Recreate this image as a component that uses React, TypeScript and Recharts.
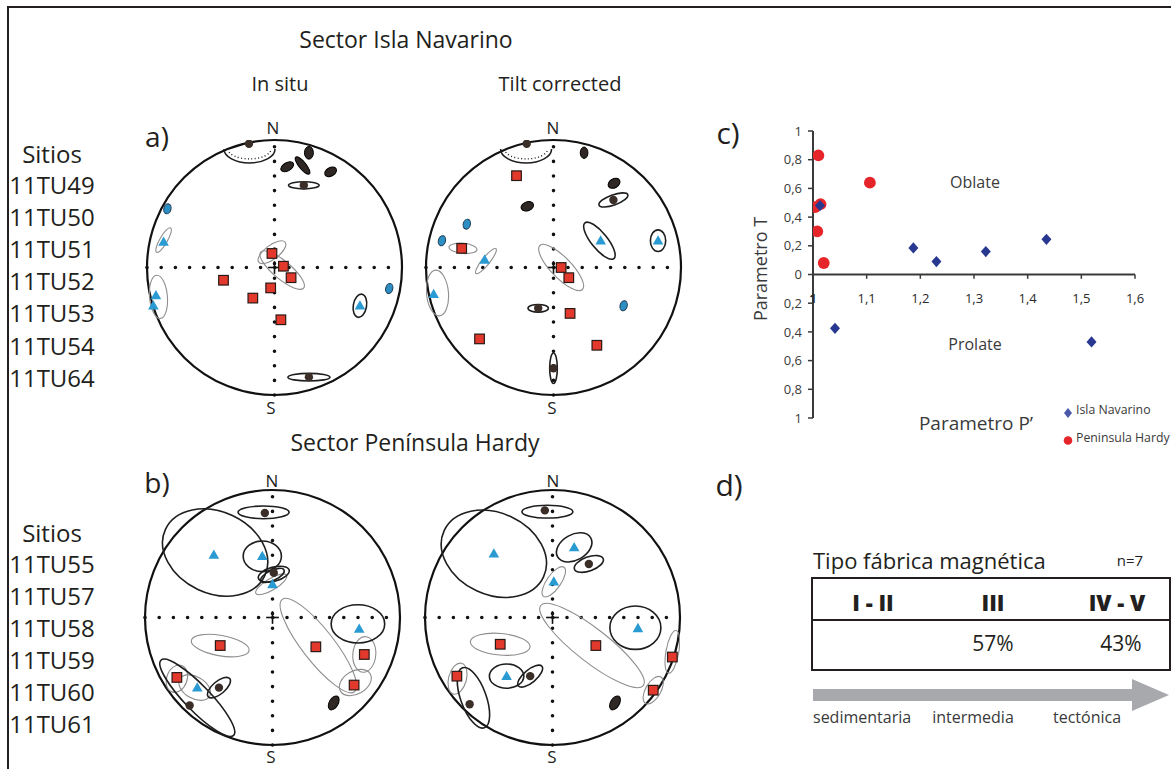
import React from 'react';
import { ScatterChart, Scatter, XAxis, YAxis, ReferenceLine, ReferenceDot } from 'recharts';

const FONT = "'Open Sans', 'Noto Sans', 'DejaVu Sans', sans-serif";
const INK = '#231f20';

// ---------- panel c: Parametro T vs Parametro P' ----------
const navarinoP = [1.013, 1.187, 1.23, 1.322, 1.435, 1.041, 1.519];
const navarinoT = [0.48, 0.185, 0.09, 0.16, 0.245, -0.375, -0.47];
const hardyP = [1.01, 1.106, 1.014, 1.004, 1.008, 1.02];
const hardyT = [0.83, 0.64, 0.49, 0.47, 0.3, 0.08];
const tTicks = [-1, -0.8, -0.6, -0.4, -0.2, 0, 0.2, 0.4, 0.6, 0.8, 1];
const pTicks = [1, 1.1, 1.2, 1.3, 1.4, 1.5, 1.6];
const seriesNames = ['Isla Navarino', 'Peninsula Hardy'];

// ---------- site lists ----------
const sitesNavarino = ['11TU49', '11TU50', '11TU51', '11TU52', '11TU53', '11TU54', '11TU64'];
const sitesHardy = ['11TU55', '11TU57', '11TU58', '11TU59', '11TU60', '11TU61'];

// ---------- panel d ----------
const fabricTypes = ['I - II', 'III', 'IV - V'];
const fabricShares = ['', '57%', '43%'];
const fabricScale = ['sedimentaria', 'intermedia', 'tectónica'];

// ---------- stereonets (x = E, y = N, unit = net radius) ----------
// ellipse rows: [x, y, semiAxisA, semiAxisB, rotationDeg, tone]
const aInSituSquares = [[-0.02, 0.11], [0.07, 0.01], [0.13, -0.08], [-0.4, -0.1], [-0.03, -0.16], [-0.17, -0.24], [0.05, -0.41]];
const aInSituTriangles = [[-0.87, 0.2], [-0.93, -0.22], [-0.95, -0.3], [0.67, -0.3]];
const aInSituDots = [[-0.2, 0.97], [0.23, 0.645], [0.27, -0.86]];
const aInSituEllipses = [
  [0.06, -0.02, 0.22, 0.07, 40, 'gray'], [-0.02, 0.12, 0.13, 0.055, -37, 'gray'],
  [-0.87, 0.215, 0.11, 0.03, -60, 'gray'], [-0.91, -0.23, 0.07, 0.17, -5, 'gray'],
  [0.67, -0.3, 0.052, 0.092, 10, 'dark'], [0.23, 0.645, 0.12, 0.028, 0, 'dark'],
  [0.27, -0.86, 0.165, 0.03, 0, 'dark'], [0.27, 0.9, 0.035, 0.05, 0, 'fill'],
  [0.1, 0.79, 0.055, 0.032, -30, 'fill'], [0.22, 0.8, 0.085, 0.028, 51, 'fill'],
  [0.44, 0.75, 0.05, 0.033, -30, 'fill'], [-0.84, 0.46, 0.028, 0.04, 15, 'blue'],
  [0.9, -0.165, 0.028, 0.04, 15, 'blue'],
];
const aInSituCups = [[-0.196, 0.93, 0.2, 0.11]];

const aTiltSquares = [[-0.29, 0.72], [-0.72, 0.15], [-0.58, -0.56], [0.06, 0.0], [0.12, -0.08], [0.13, -0.36], [0.34, -0.61]];
const aTiltTriangles = [[-0.54, 0.06], [-0.94, -0.21], [0.37, 0.21], [0.82, 0.21]];
const aTiltDots = [[-0.21, 0.97], [0.47, 0.53], [-0.12, -0.32], [0.0, -0.79]];
const aTiltEllipses = [
  [0.06, 0.0, 0.24, 0.08, 46, 'gray'], [-0.71, 0.15, 0.11, 0.04, 5, 'gray'],
  [-0.53, 0.05, 0.125, 0.03, -51, 'gray'], [-0.91, -0.2, 0.086, 0.18, -5, 'gray'],
  [0.36, 0.21, 0.18, 0.063, 51, 'dark'], [0.82, 0.21, 0.06, 0.085, 0, 'dark'],
  [0.47, 0.53, 0.12, 0.04, -20, 'dark'], [-0.12, -0.32, 0.08, 0.03, 0, 'dark'],
  [0.0, -0.79, 0.03, 0.12, 0, 'dark'], [0.24, 0.9, 0.03, 0.045, 0, 'fill'],
  [0.475, 0.66, 0.05, 0.035, -30, 'fill'], [-0.205, 0.48, 0.05, 0.035, -20, 'fill'],
  [-0.68, 0.34, 0.028, 0.04, 15, 'blue'], [-0.875, 0.21, 0.028, 0.04, 15, 'blue'],
  [0.55, -0.3, 0.028, 0.04, 15, 'blue'],
];
const aTiltCups = [[-0.215, 0.93, 0.2, 0.11]];

const bInSituSquares = [[-0.41, -0.22], [-0.75, -0.47], [0.34, -0.23], [0.72, -0.29], [0.64, -0.53]];
const bInSituTriangles = [[-0.46, 0.49], [-0.08, 0.48], [0.0, 0.26], [0.68, -0.09], [-0.59, -0.55]];
const bInSituDots = [[-0.06, 0.82], [0.01, 0.35], [-0.42, -0.55], [-0.65, -0.69]];
const bInSituEllipses = [
  [-0.41, -0.22, 0.23, 0.08, 10, 'gray'], [-0.75, -0.48, 0.08, 0.11, 20, 'gray'],
  [0.36, -0.22, 0.46, 0.125, 52, 'gray'], [0.72, -0.29, 0.09, 0.14, 5, 'gray'],
  [0.65, -0.51, 0.135, 0.09, -30, 'gray'], [-0.01, 0.26, 0.14, 0.045, -31, 'gray'],
  [-0.61, -0.55, 0.135, 0.085, 30, 'gray'], [-0.45, 0.51, 0.43, 0.32, 25, 'dark'],
  [-0.08, 0.48, 0.15, 0.12, 0, 'dark'], [0.67, -0.05, 0.21, 0.15, 0, 'dark'],
  [-0.07, 0.825, 0.2, 0.05, 0, 'dark'], [0.01, 0.34, 0.125, 0.055, -15, 'dark'],
  [0.0, 0.33, 0.1, 0.04, -25, 'dark'], [-0.42, -0.55, 0.11, 0.05, -40, 'dark'],
  [-0.59, -0.63, 0.41, 0.1, 46, 'dark'], [0.48, -0.67, 0.035, 0.06, 30, 'fill'],
];
const bInSituCups: number[][] = [];

const bTiltSquares = [[-0.41, -0.21], [0.34, -0.22], [0.94, -0.31], [0.79, -0.57], [-0.75, -0.46]];
const bTiltTriangles = [[-0.46, 0.5], [0.17, 0.55], [0.01, 0.28], [0.67, -0.085], [-0.36, -0.46]];
const bTiltDots = [[-0.06, 0.84], [0.285, 0.42], [-0.175, -0.46], [-0.65, -0.68]];
const bTiltEllipses = [
  [-0.41, -0.21, 0.235, 0.085, 5, 'gray'], [0.31, -0.22, 0.51, 0.13, 38, 'gray'],
  [0.94, -0.27, 0.05, 0.17, 10, 'gray'], [0.79, -0.57, 0.06, 0.12, 30, 'gray'],
  [-0.745, -0.48, 0.07, 0.125, 15, 'gray'], [0.01, 0.28, 0.14, 0.055, -55, 'gray'],
  [-0.46, 0.5, 0.43, 0.32, 25, 'dark'], [0.17, 0.55, 0.15, 0.1, -30, 'dark'],
  [0.65, -0.08, 0.2, 0.17, 0, 'dark'], [-0.36, -0.46, 0.135, 0.095, 0, 'dark'],
  [-0.04, 0.83, 0.2, 0.05, 0, 'dark'], [0.285, 0.42, 0.12, 0.055, -20, 'dark'],
  [-0.175, -0.46, 0.12, 0.05, -40, 'dark'], [-0.62, -0.63, 0.25, 0.1, 70, 'dark'],
  [0.49, -0.67, 0.035, 0.06, 30, 'fill'],
];
const bTiltCups: number[][] = [];

// ---------- helpers ----------
const NET_R = 127.5;
const NET_M = 16;

const toPts = (arr: number[][]) => arr.map(([x, y]) => ({ x, y }));
const toElls = (arr: any[]) => arr.map(([x, y, a, b, rot, tone]) => ({ x, y, a, b, rot, tone }));
const toCups = (arr: number[][]) => arr.map(([x, y, a, b]) => ({ x, y, a, b }));

const TONE: Record<string, { fill: string; stroke: string; sw: number }> = {
  gray: { fill: 'none', stroke: '#8e8e8e', sw: 1.1 },
  dark: { fill: 'none', stroke: '#1e1e1e', sw: 1.6 },
  fill: { fill: '#2f2724', stroke: '#000', sw: 1 },
  blue: { fill: '#2b8fc4', stroke: '#1c3850', sw: 1 },
};

const ellipseShape = (p: any) => {
  if (p.cx == null) return <g />;
  const d = p.payload;
  const t = TONE[d.tone];
  return (
    <ellipse cx={p.cx} cy={p.cy} rx={d.a * NET_R} ry={d.b * NET_R}
      transform={`rotate(${d.rot} ${p.cx} ${p.cy})`} fill={t.fill} stroke={t.stroke} strokeWidth={t.sw} />
  );
};
const cupShape = (p: any) => {
  if (p.cx == null) return <g />;
  const d = p.payload;
  const rx = d.a * NET_R, ry = d.b * NET_R;
  return (
    <g>
      <path d={`M ${p.cx - rx} ${p.cy} A ${rx} ${ry} 0 0 0 ${p.cx + rx} ${p.cy}`} fill="none" stroke="#1e1e1e" strokeWidth={1.6} />
      <path d={`M ${p.cx - rx + 4} ${p.cy} A ${rx - 4} ${ry - 4} 0 0 0 ${p.cx + rx - 4} ${p.cy}`} fill="none" stroke="#1e1e1e" strokeWidth={1.4} strokeDasharray="1 2.4" />
    </g>
  );
};
const squareShape = (p: any) => (p.cx == null ? <g /> :
  <rect x={p.cx - 4.8} y={p.cy - 4.8} width={9.6} height={9.6} fill="#e2392c" stroke="#2a1a16" strokeWidth={1.2} />);
const triangleShape = (p: any) => (p.cx == null ? <g /> :
  <polygon points={`${p.cx},${p.cy - 5.5} ${p.cx + 5.3},${p.cy + 3.8} ${p.cx - 5.3},${p.cy + 3.8}`} fill="#2a9ad2" />);
const dotShape = (p: any) => (p.cx == null ? <g /> :
  <circle cx={p.cx} cy={p.cy} r={4.2} fill="#3b2e29" />);

const diamondShape = (p: any) => (p.cx == null ? <g /> :
  <polygon points={`${p.cx},${p.cy - 5.6} ${p.cx + 5},${p.cy} ${p.cx},${p.cy + 5.6} ${p.cx - 5},${p.cy}`} fill="#283890" />);
const redDotShape = (p: any) => (p.cx == null ? <g /> :
  <circle cx={p.cx} cy={p.cy} r={5.9} fill="#e5252a" />);

const Txt = ({ x, y, size, children, anchor = 'middle', weight = 400, color = INK, rotate = 0 }: any) => (
  <div style={{
    position: 'absolute', left: x, top: y,
    transform: `translate(${anchor === 'start' ? '0' : anchor === 'end' ? '-100%' : '-50%'}, -50%) rotate(${rotate}deg)`,
    fontSize: size, fontWeight: weight, color, whiteSpace: 'nowrap', lineHeight: 1, fontFamily: FONT,
  }}>{children}</div>
);

function Net({ cx, cy, squares, triangles, dots, ellipses, cups }: any) {
  const W = 2 * NET_R + 2 * NET_M;
  const ells = toElls(ellipses);
  return (
    <div style={{ position: 'absolute', left: cx - NET_R - NET_M, top: cy - NET_R - NET_M }}>
      <ScatterChart width={W} height={W} margin={{ top: NET_M, right: NET_M, bottom: NET_M, left: NET_M }}>
        <XAxis type="number" dataKey="x" domain={[-1, 1]} hide allowDataOverflow />
        <YAxis type="number" dataKey="y" domain={[-1, 1]} hide allowDataOverflow />
        <ReferenceLine x={0} stroke="#111" strokeWidth={3.6} strokeDasharray="0 14.6" strokeLinecap="round" />
        <ReferenceLine y={0} stroke="#111" strokeWidth={3.6} strokeDasharray="0 14.2" strokeLinecap="round" />
        <ReferenceLine segment={[{ x: -0.05, y: 0 }, { x: 0.05, y: 0 }]} stroke="#111" strokeWidth={1.6} />
        <ReferenceLine segment={[{ x: 0, y: -0.05 }, { x: 0, y: 0.05 }]} stroke="#111" strokeWidth={1.6} />
        <ReferenceDot x={0} y={0} r={NET_R} fill="none" stroke="#111" strokeWidth={2.2} />
        <Scatter data={ells.filter((e) => e.tone === 'gray')} shape={ellipseShape} isAnimationActive={false} />
        <Scatter data={ells.filter((e) => e.tone === 'dark')} shape={ellipseShape} isAnimationActive={false} />
        <Scatter data={toCups(cups)} shape={cupShape} isAnimationActive={false} />
        <Scatter data={ells.filter((e) => e.tone === 'fill' || e.tone === 'blue')} shape={ellipseShape} isAnimationActive={false} />
        <Scatter data={toPts(dots)} shape={dotShape} isAnimationActive={false} />
        <Scatter data={toPts(squares)} shape={squareShape} isAnimationActive={false} />
        <Scatter data={toPts(triangles)} shape={triangleShape} isAnimationActive={false} />
      </ScatterChart>
    </div>
  );
}

const fmtComma = (v: number) => {
  const a = Math.abs(v);
  if (a < 1e-9) return '0';
  if (Math.abs(a - Math.round(a)) < 1e-9) return String(Math.round(a));
  return a.toFixed(1).replace('.', ',');
};

function PanelC() {
  const navarino = navarinoP.map((P, i) => ({ P, T: navarinoT[i] }));
  const hardy = hardyP.map((P, i) => ({ P, T: hardyT[i] }));
  return (
    <div style={{ position: 'absolute', left: 740, top: 120 }}>
      <ScatterChart width={415} height={308} margin={{ top: 11, right: 20, bottom: 10, left: 0 }}>
        <XAxis type="number" dataKey="P" domain={[1, 1.6]} hide allowDataOverflow />
        <YAxis type="number" dataKey="T" domain={[-1, 1]} ticks={tTicks} interval={0} width={73}
          allowDataOverflow tickFormatter={fmtComma} tickSize={5} tickMargin={6}
          axisLine={{ stroke: '#3a3a3a', strokeWidth: 2 }} tickLine={{ stroke: '#3a3a3a', strokeWidth: 1.5 }}
          tick={{ fontSize: 13, fill: '#3a3a3a', fontFamily: FONT }} />
        <ReferenceLine y={0} stroke="#3a3a3a" strokeWidth={2} />
        {pTicks.map((v) => (
          <ReferenceLine key={v} segment={[{ x: v, y: 0 }, { x: v, y: -0.03 }]} stroke="#3a3a3a" strokeWidth={1.5}
            label={{ value: fmtComma(v), position: 'bottom', offset: 15, fontSize: 13, fill: '#2a2a2a', fontFamily: FONT, fontWeight: v === 1 ? 700 : 400 }} />
        ))}
        <Scatter name={seriesNames[1]} data={hardy} shape={redDotShape} isAnimationActive={false} />
        <Scatter name={seriesNames[0]} data={navarino} shape={diamondShape} isAnimationActive={false} />
      </ScatterChart>
    </div>
  );
}

export default function App() {
  return (
    <div style={{ position: 'absolute', left: 0, top: 0, width: 1171, height: 769, overflow: 'hidden', background: '#fff', fontFamily: FONT, color: INK }}>
      <div style={{ position: 'absolute', left: 7, top: 6, width: 1300, height: 900, borderLeft: `2px solid ${INK}`, borderTop: `2px solid ${INK}` }} />

      {/* titles */}
      <Txt x={406} y={39} size={23}>Sector Isla Navarino</Txt>
      <Txt x={280} y={84} size={20}>In situ</Txt>
      <Txt x={560} y={84} size={20}>Tilt corrected</Txt>
      <Txt x={415} y={442} size={23}>Sector Península Hardy</Txt>
      <Txt x={157} y={136} size={28}>a)</Txt>
      <Txt x={157} y={482} size={28}>b)</Txt>
      <Txt x={728} y={133} size={30}>c)</Txt>
      <Txt x={729} y={485} size={30}>d)</Txt>

      {/* site lists */}
      <Txt x={52} y={154} size={24}>Sitios</Txt>
      {sitesNavarino.map((s, i) => <Txt key={s} x={52} y={185 + i * 32.1} size={24}>{s}</Txt>)}
      <Txt x={52} y={533} size={24}>Sitios</Txt>
      {sitesHardy.map((s, i) => <Txt key={s} x={52} y={563.5 + i * 32} size={24}>{s}</Txt>)}

      {/* stereonets */}
      <Net cx={274} cy={267.3} squares={aInSituSquares} triangles={aInSituTriangles} dots={aInSituDots} ellipses={aInSituEllipses} cups={aInSituCups} />
      <Net cx={553} cy={267.3} squares={aTiltSquares} triangles={aTiltTriangles} dots={aTiltDots} ellipses={aTiltEllipses} cups={aTiltCups} />
      <Net cx={272.5} cy={617.5} squares={bInSituSquares} triangles={bInSituTriangles} dots={bInSituDots} ellipses={bInSituEllipses} cups={bInSituCups} />
      <Net cx={552.7} cy={617.5} squares={bTiltSquares} triangles={bTiltTriangles} dots={bTiltDots} ellipses={bTiltEllipses} cups={bTiltCups} />
      {[[273, 127, 'N'], [271, 407, 'S'], [553, 127, 'N'], [552, 407, 'S'], [272, 480, 'N'], [271, 756, 'S'], [553, 480, 'N'], [552, 756, 'S']].map(([x, y, t], i) => (
        <Txt key={i} x={x} y={y} size={17}>{t}</Txt>
      ))}

      {/* panel c */}
      <PanelC />
      <Txt x={975} y={182} size={16} color="#3a3a3a">Oblate</Txt>
      <Txt x={975} y={344} size={16} color="#3a3a3a">Prolate</Txt>
      <Txt x={760} y={269} size={18} rotate={-90} color="#3a3a3a">Parametro T</Txt>
      <Txt x={976} y={423} size={19} color="#3a3a3a">Parametro P’</Txt>
      <div style={{ position: 'absolute', left: 1063, top: 403 }}>
        <svg width={12} height={14}><polygon points="5,2 9,7 5,12 1,7" fill="#4a5aa8" /></svg>
      </div>
      <Txt x={1076} y={410} size={12.3} anchor="start" color="#3a3a3a">{seriesNames[0]}</Txt>
      <div style={{ position: 'absolute', left: 1063, top: 431 }}>
        <svg width={12} height={14}><circle cx={5} cy={6.5} r={4.3} fill="#e5252a" /></svg>
      </div>
      <Txt x={1076} y={438} size={12.3} anchor="start" color="#3a3a3a">{seriesNames[1]}</Txt>

      {/* panel d */}
      <Txt x={813} y={560} size={22} anchor="start">Tipo fábrica magnética</Txt>
      <Txt x={1130} y={560} size={15}>n=7</Txt>
      <div style={{ position: 'absolute', left: 811, top: 577, width: 360, height: 94, boxSizing: 'border-box', border: `2px solid ${INK}` }} />
      <div style={{ position: 'absolute', left: 811, top: 619, width: 360, height: 2, background: INK }} />
      {[873, 993, 1117].map((x, i) => (
        <Txt key={'h' + i} x={x} y={602} size={22} weight={800}>{fabricTypes[i]}</Txt>
      ))}
      {[873, 993, 1121].map((x, i) => (
        <Txt key={'v' + i} x={x} y={643} size={21}>{fabricShares[i]}</Txt>
      ))}
      <svg style={{ position: 'absolute', left: 0, top: 0 }} width={1171} height={769} pointerEvents="none">
        <polygon points="813,689 1132,689 1132,679 1169,695 1132,711 1132,701 813,701" fill="#a7a9ac" />
      </svg>
      <Txt x={813} y={717} size={16} anchor="start" color="#3a3a3a">{fabricScale[0]}</Txt>
      <Txt x={973} y={717} size={16} color="#3a3a3a">{fabricScale[1]}</Txt>
      <Txt x={1087} y={717} size={16} color="#3a3a3a">{fabricScale[2]}</Txt>
    </div>
  );
}
